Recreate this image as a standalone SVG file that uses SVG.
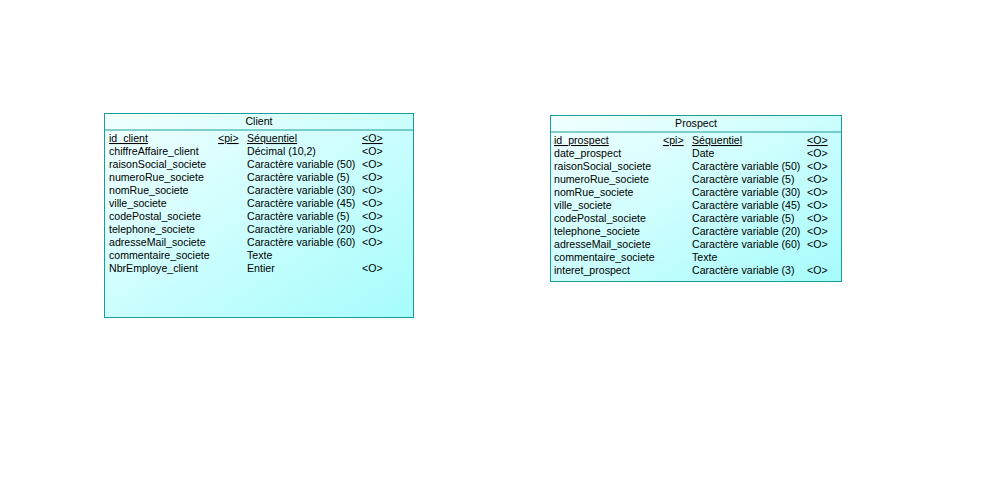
<svg xmlns="http://www.w3.org/2000/svg" width="984" height="492" viewBox="0 0 984 492">
<defs>
<linearGradient id="g" x1="0" y1="0" x2="1" y2="1">
<stop offset="0" stop-color="#f2ffff"/>
<stop offset="1" stop-color="#a6fcfc"/>
</linearGradient>
</defs>
<style>
.box{fill:url(#g);stroke:#1a9c9c;stroke-width:1}
.sep{stroke:#1a9c9c;stroke-width:1}
text{font-family:"Liberation Sans",Arial,sans-serif;font-size:10.6px;fill:#000}
.t{text-anchor:middle}
.u{text-decoration:underline}
</style>
<rect width="984" height="492" fill="#fff"/>
<g id="connectors"></g>
<g id="client">
<rect class="box" x="104.5" y="113.5" width="309" height="204"/>
<line class="sep" x1="104.5" y1="130" x2="413.5" y2="130"/>
<text class="t" x="259" y="125">Client</text>
<g>
<text class="u" x="109" y="142">id_client</text><text class="u" x="218" y="142">&lt;pi&gt;</text><text class="u" x="247" y="142">Séquentiel</text><text class="u" x="362" y="142">&lt;O&gt;</text>
<text x="109" y="155">chiffreAffaire_client</text><text x="247" y="155">Décimal (10,2)</text><text x="362" y="155">&lt;O&gt;</text>
<text x="109" y="168">raisonSocial_societe</text><text x="247" y="168">Caractère variable (50)</text><text x="362" y="168">&lt;O&gt;</text>
<text x="109" y="181">numeroRue_societe</text><text x="247" y="181">Caractère variable (5)</text><text x="362" y="181">&lt;O&gt;</text>
<text x="109" y="194">nomRue_societe</text><text x="247" y="194">Caractère variable (30)</text><text x="362" y="194">&lt;O&gt;</text>
<text x="109" y="207">ville_societe</text><text x="247" y="207">Caractère variable (45)</text><text x="362" y="207">&lt;O&gt;</text>
<text x="109" y="220">codePostal_societe</text><text x="247" y="220">Caractère variable (5)</text><text x="362" y="220">&lt;O&gt;</text>
<text x="109" y="233">telephone_societe</text><text x="247" y="233">Caractère variable (20)</text><text x="362" y="233">&lt;O&gt;</text>
<text x="109" y="246">adresseMail_societe</text><text x="247" y="246">Caractère variable (60)</text><text x="362" y="246">&lt;O&gt;</text>
<text x="109" y="259">commentaire_societe</text><text x="247" y="259">Texte</text>
<text x="109" y="272">NbrEmploye_client</text><text x="247" y="272">Entier</text><text x="362" y="272">&lt;O&gt;</text>
</g>
</g>
<g id="prospect">
<rect class="box" x="550.5" y="115.5" width="291" height="166"/>
<line class="sep" x1="550.5" y1="132" x2="841.5" y2="132"/>
<text class="t" x="696" y="127">Prospect</text>
<g>
<text class="u" x="554" y="144">id_prospect</text><text class="u" x="663" y="144">&lt;pi&gt;</text><text class="u" x="692" y="144">Séquentiel</text><text class="u" x="807" y="144">&lt;O&gt;</text>
<text x="554" y="157">date_prospect</text><text x="692" y="157">Date</text><text x="807" y="157">&lt;O&gt;</text>
<text x="554" y="170">raisonSocial_societe</text><text x="692" y="170">Caractère variable (50)</text><text x="807" y="170">&lt;O&gt;</text>
<text x="554" y="183">numeroRue_societe</text><text x="692" y="183">Caractère variable (5)</text><text x="807" y="183">&lt;O&gt;</text>
<text x="554" y="196">nomRue_societe</text><text x="692" y="196">Caractère variable (30)</text><text x="807" y="196">&lt;O&gt;</text>
<text x="554" y="209">ville_societe</text><text x="692" y="209">Caractère variable (45)</text><text x="807" y="209">&lt;O&gt;</text>
<text x="554" y="222">codePostal_societe</text><text x="692" y="222">Caractère variable (5)</text><text x="807" y="222">&lt;O&gt;</text>
<text x="554" y="235">telephone_societe</text><text x="692" y="235">Caractère variable (20)</text><text x="807" y="235">&lt;O&gt;</text>
<text x="554" y="248">adresseMail_societe</text><text x="692" y="248">Caractère variable (60)</text><text x="807" y="248">&lt;O&gt;</text>
<text x="554" y="261">commentaire_societe</text><text x="692" y="261">Texte</text>
<text x="554" y="274">interet_prospect</text><text x="692" y="274">Caractère variable (3)</text><text x="807" y="274">&lt;O&gt;</text>
</g>
</g>
</svg>
